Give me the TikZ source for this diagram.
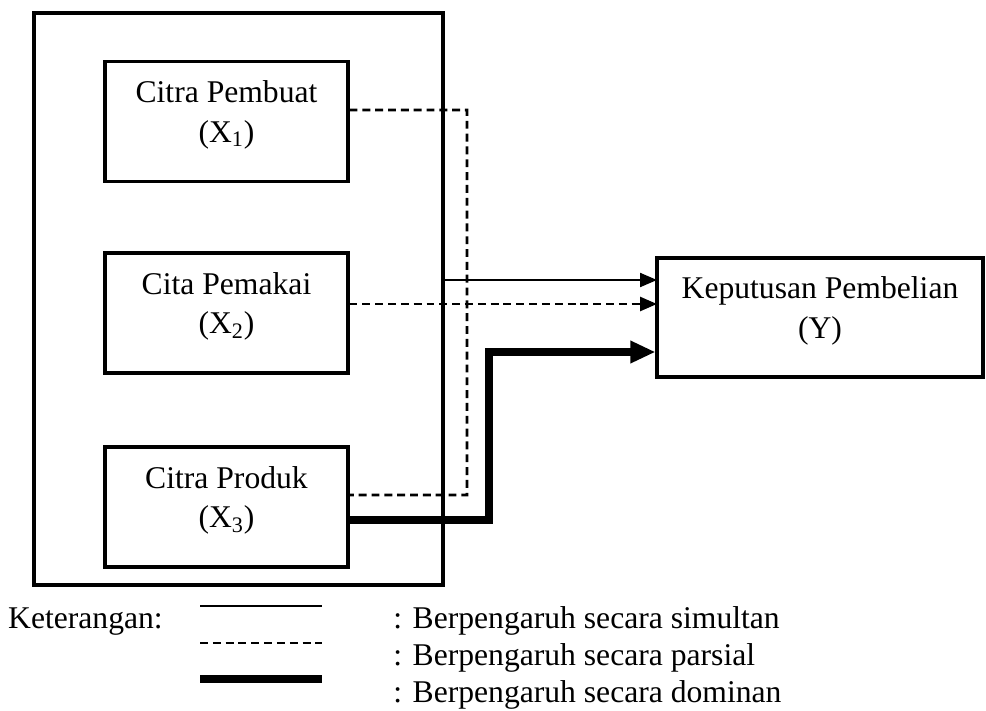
\documentclass[tikz,border=0pt]{standalone}
\usepackage{fontspec}
\setmainfont{Liberation Serif}
\usepackage{tikz}
\usetikzlibrary{arrows.meta}

\tikzset{
  kotak/.style={draw, line width=1.8pt, minimum width=4.86cm, minimum height=2.4cm, align=center, inner sep=0pt},
  simul/.style={line width=1.2pt},
  parsial/.style={line width=1.5pt, dash pattern=on 4.5pt off 2.8pt},
  dominan/.style={line width=4.5pt},
  teks/.style={font=\fontsize{18}{22.5}\selectfont},
}

\begin{document}
\begin{tikzpicture}[x=0.02cm, y=-0.02cm, teks]
					\useasboundingbox (0,0) rectangle (986,710);
					%\draw (0,0) grid[step=50] (986,710);
					\coordinate (P) at (467,110);
					\coordinate (S) at (657,280);
					\coordinate (Q) at (657,304);
					\coordinate (D) at (489,352);
					\node[draw, line width=1.8pt, minimum width=8.18cm, minimum height=11.44cm] (citra) at (238.5,299) {};
					\node[kotak] (pembuat) at (226.5,121.5) {Citra Pembuat\\(X\textsubscript{1})\\[-11pt]\mbox{}};
					\node[kotak] (pemakai) at (226.5,313) {Cita Pemakai\\(X\textsubscript{2})\\[-11pt]\mbox{}};
					\node[kotak] (produk) at (226.5,507) {Citra Produk\\(X\textsubscript{3})\\[-11pt]\mbox{}};
					\node[kotak, minimum width=6.52cm, minimum height=2.38cm] (keputusan) at (820,317.5) {Keputusan Pembelian\\(Y)\\[-11pt]\mbox{}};
					\draw[parsial] ([yshift=0.23cm]pembuat.east) -- (P) |- ([yshift=0.24cm]produk.east);
					\draw[simul, -{Triangle[length=0.34cm, width=0.28cm]}] (citra.east |- S) -- (S);
					\draw[parsial, -{Triangle[length=0.34cm, width=0.28cm]}] (pemakai.east |- Q) -- (Q);
					\draw[dominan, -{Triangle[length=0.5cm, width=0.42cm]}] ([yshift=-0.26cm]produk.east) -| (D) -- (keputusan.west |- D);
					\node[anchor=west] (ket) at (2,622) {Keterangan:};
					\draw[simul] (200,606) -- (322,606);
					\draw[parsial] (200,643) -- (322,643);
					\draw[dominan] (200,679) -- (322,679);
					\node[anchor=west, inner sep=0pt] (l1) at (393,621) {: Berpengaruh secara simultan};
					\node[anchor=west, inner sep=0pt] (l2) at (393,658) {: Berpengaruh secara parsial};
					\node[anchor=west, inner sep=0pt] (l3) at (393,695) {: Berpengaruh secara dominan};
				\end{tikzpicture}
\end{document}
